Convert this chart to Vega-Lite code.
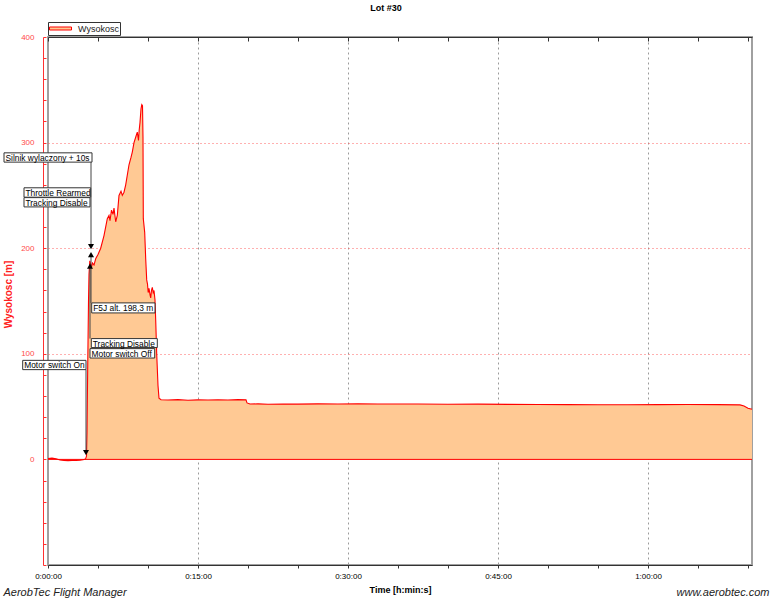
{
  "$schema": "https://vega.github.io/schema/vega-lite/v6.json",
  "width": 704,
  "height": 528,
  "autosize": {"type": "none"},
  "padding": {"left": 48, "top": 37, "right": 20, "bottom": 35},
  "background": "white",
  "title": {"text": "Lot #30", "fontSize": 9, "fontWeight": "bold", "font": "Liberation Sans", "color": "#000", "anchor": "middle", "dx": -14, "offset": 9},
  "config": {
    "view": {"stroke": "#a0a0a0", "strokeWidth": 2},
    "font": "Liberation Sans",
    "axis": {"labelFont": "Liberation Sans", "titleFont": "Liberation Sans", "labelFlush": false, "labelOverlap": false}
  },
  "datasets": {
    "alt": [
      {"t": 0, "alt": 0.8}, {"t": 0.4, "alt": 1.2}, {"t": 0.8, "alt": 0.6}, {"t": 1.2, "alt": -0.5}, {"t": 1.6, "alt": -1},
      {"t": 2.0, "alt": -1.2}, {"t": 2.4, "alt": -1}, {"t": 2.8, "alt": -1.1}, {"t": 3.2, "alt": -0.8}, {"t": 3.5, "alt": -0.3},
      {"t": 3.75, "alt": 0.3}, {"t": 3.85, "alt": 3}, {"t": 3.9, "alt": 25}, {"t": 3.95, "alt": 70}, {"t": 4.0, "alt": 110},
      {"t": 4.05, "alt": 150}, {"t": 4.1, "alt": 175}, {"t": 4.18, "alt": 188}, {"t": 4.27, "alt": 185}, {"t": 4.35, "alt": 182},
      {"t": 4.45, "alt": 186}, {"t": 4.6, "alt": 184}, {"t": 4.77, "alt": 190}, {"t": 5.0, "alt": 194}, {"t": 5.27, "alt": 200},
      {"t": 5.6, "alt": 212}, {"t": 5.93, "alt": 228}, {"t": 6.1, "alt": 231}, {"t": 6.2, "alt": 226}, {"t": 6.35, "alt": 236},
      {"t": 6.5, "alt": 232}, {"t": 6.6, "alt": 238}, {"t": 6.77, "alt": 225}, {"t": 6.93, "alt": 231}, {"t": 7.1, "alt": 250},
      {"t": 7.3, "alt": 254}, {"t": 7.43, "alt": 250}, {"t": 7.6, "alt": 253}, {"t": 7.77, "alt": 260}, {"t": 8.1, "alt": 279},
      {"t": 8.3, "alt": 286}, {"t": 8.43, "alt": 291}, {"t": 8.6, "alt": 300}, {"t": 8.8, "alt": 306}, {"t": 8.93, "alt": 310},
      {"t": 9.05, "alt": 302}, {"t": 9.12, "alt": 312}, {"t": 9.2, "alt": 319}, {"t": 9.3, "alt": 332}, {"t": 9.38, "alt": 336},
      {"t": 9.45, "alt": 335}, {"t": 9.5, "alt": 304}, {"t": 9.53, "alt": 228}, {"t": 9.67, "alt": 215}, {"t": 9.77, "alt": 190},
      {"t": 9.87, "alt": 170}, {"t": 9.95, "alt": 166}, {"t": 10.02, "alt": 158}, {"t": 10.1, "alt": 162}, {"t": 10.2, "alt": 156},
      {"t": 10.27, "alt": 153}, {"t": 10.35, "alt": 160}, {"t": 10.43, "alt": 163}, {"t": 10.52, "alt": 158}, {"t": 10.6, "alt": 160},
      {"t": 10.7, "alt": 151}, {"t": 10.77, "alt": 132}, {"t": 10.87, "alt": 100}, {"t": 11.0, "alt": 70}, {"t": 11.1, "alt": 58},
      {"t": 11.3, "alt": 56.5}, {"t": 12, "alt": 56.2}, {"t": 13, "alt": 56.6}, {"t": 14, "alt": 56.0}, {"t": 15, "alt": 56.4},
      {"t": 16, "alt": 56.2}, {"t": 17, "alt": 56.5}, {"t": 18, "alt": 56.3}, {"t": 19, "alt": 56.6}, {"t": 19.8, "alt": 56.4},
      {"t": 19.9, "alt": 53.5}, {"t": 20.2, "alt": 52.4}, {"t": 21, "alt": 52.6}, {"t": 22, "alt": 52.2}, {"t": 23.5, "alt": 52.5},
      {"t": 25, "alt": 52.3}, {"t": 27, "alt": 52.6}, {"t": 29, "alt": 52.4}, {"t": 31, "alt": 52.7}, {"t": 33, "alt": 52.5},
      {"t": 35, "alt": 52.4}, {"t": 37, "alt": 52.5}, {"t": 40, "alt": 52.2}, {"t": 43, "alt": 52.3}, {"t": 46, "alt": 52.1},
      {"t": 49, "alt": 52.0}, {"t": 52, "alt": 51.9}, {"t": 55, "alt": 51.8}, {"t": 58, "alt": 51.7}, {"t": 61, "alt": 51.9},
      {"t": 64, "alt": 52.0}, {"t": 67, "alt": 51.9}, {"t": 69.2, "alt": 51.6}, {"t": 69.6, "alt": 50.5}, {"t": 70.0, "alt": 48.5},
      {"t": 70.4, "alt": 47.5}
    ],
    "labels": [
      {"label": "Silnik wylaczony + 10s", "t0": -4.4, "t1": 4.4, "top": 290.3, "bot": 281.5},
      {"label": "Throttle Rearmed", "t0": -2.4, "t1": 4.27, "top": 257.2, "bot": 248.3},
      {"label": "Tracking Disable", "t0": -2.4, "t1": 4.2, "top": 247.9, "bot": 239.1},
      {"label": "F5J alt. 198,3 m", "t0": 4.37, "t1": 10.7, "top": 148.2, "bot": 138.7},
      {"label": "Tracking Disable", "t0": 4.33, "t1": 10.93, "top": 114.4, "bot": 105.9},
      {"label": "Motor switch Off", "t0": 4.2, "t1": 10.67, "top": 104.9, "bot": 96.0},
      {"label": "Motor switch On", "t0": -2.53, "t1": 3.8, "top": 93.8, "bot": 85.0}
    ],
    "arrows": [
      {"t": 4.3, "from": 281.5, "to": 203},
      {"t": 4.3, "from": 148.2, "to": 192},
      {"t": 4.2, "from": 114.4, "to": 181},
      {"t": 3.8, "from": 85.0, "to": 8}
    ],
    "markers": [
      {"t": 4.3, "a": 201.5, "dir": "down"},
      {"t": 4.3, "a": 194, "dir": "up"},
      {"t": 4.2, "a": 183, "dir": "up"},
      {"t": 3.8, "a": 6.5, "dir": "down"}
    ]
  },
  "layer": [
    {
      "data": {"name": "alt"},
      "mark": {"type": "area", "opacity": 1},
      "encoding": {
        "x": {
          "field": "t", "type": "quantitative",
          "scale": {"domain": [0, 70.4], "nice": false, "zero": false},
          "axis": {
            "orient": "bottom",
            "values": [0, 5, 10, 15, 20, 25, 30, 35, 40, 45, 50, 55, 60, 65, 70],
            "labelExpr": "datum.value % 15 === 0 ? (floor(datum.value / 60) + ':' + (datum.value % 60 < 10 ? '0' : '') + (datum.value % 60) + ':00') : ''",
            "labelFontSize": 8, "labelColor": "#000", "labelPadding": 4,
            "tickSize": 3, "tickColor": "#333", "domainColor": "#333",
            "grid": true, "gridColor": "#9a9a9a", "gridDash": [2, 3],
            "gridOpacity": {"condition": {"test": "datum.value % 15 === 0 && datum.value > 0", "value": 1}, "value": 0},
            "title": "Time [h:min:s]", "titleFontSize": 9, "titleFontWeight": "bold", "titleColor": "#000",
            "titleX": 352, "titleY": 27, "titleBaseline": "alphabetic"
          }
        },
        "y": {
          "field": "alt", "type": "quantitative",
          "scale": {"domain": [-100, 400], "nice": false},
          "axis": {
            "orient": "left", "offset": 5,
            "values": [-100, -80, -60, -40, -20, 0, 20, 40, 60, 80, 100, 120, 140, 160, 180, 200, 220, 240, 260, 280, 300, 320, 340, 360, 380, 400],
            "labelExpr": "datum.value % 100 === 0 && datum.value >= 0 ? datum.label : ''",
            "labelFontSize": 8, "labelColor": "#ff4a4a", "labelPadding": 12,
            "tickSize": -3, "tickColor": "#ff3030", "domainColor": "#ff3030",
            "grid": true, "gridColor": "#ff6060", "gridDash": [1, 3],
            "gridOpacity": {"condition": {"test": "datum.value % 100 === 0 && datum.value > 0 && datum.value < 400", "value": 1}, "value": 0},
            "title": "Wysokosc [m]", "titleColor": "#ff2020", "titleFontSize": 10, "titleFontWeight": "bold",
            "titleX": -35, "titleY": 257, "titleAngle": -90, "titleAlign": "center", "titleBaseline": "middle"
          }
        },
        "color": {
          "datum": "Wysokosc",
          "scale": {"range": ["#ffc994"]},
          "legend": {
            "orient": "none", "legendX": 0, "legendY": -15, "title": null,
            "strokeColor": "#333", "fillColor": "white", "padding": 1,
            "symbolType": "M-1,-0.3H3.4V0.3H-1Z", "symbolSize": 100,
            "symbolStrokeColor": "#ff0000", "symbolStrokeWidth": 1,
            "labelFontSize": 9, "labelColor": "#222", "labelOffset": 18, "labelFont": "Liberation Sans"
          }
        }
      }
    },
    {
      "data": {"values": [{}]},
      "mark": {"type": "rule", "color": "#ff0000", "strokeWidth": 1},
      "encoding": {
        "y": {
          "datum": 0, "type": "quantitative",
          "scale": {"domain": [-100, 400], "nice": false},
          "axis": {
            "orient": "right", "domain": false, "ticks": false, "labels": false, "grid": false,
            "title": "www.aerobtec.com", "titleAngle": 0, "titleX": 17, "titleY": 558,
            "titleAlign": "right", "titleBaseline": "alphabetic", "titleFontStyle": "italic",
            "titleFontWeight": "normal", "titleFontSize": 11, "titleColor": "#222"
          }
        }
      }
    },
    {
      "data": {"name": "alt"},
      "mark": {"type": "line", "color": "#ff0000", "strokeWidth": 1.1},
      "encoding": {
        "x": {
          "field": "t", "type": "quantitative",
          "scale": {"domain": [0, 70.4], "nice": false, "zero": false},
          "axis": {
            "orient": "top", "labels": false, "grid": false, "title": null,
            "values": [0, 5, 10, 15, 20, 25, 30, 35, 40, 45, 50, 55, 60, 65, 70],
            "tickSize": -4, "tickColor": "#333", "domainColor": "#333"
          }
        },
        "y": {"field": "alt", "type": "quantitative", "scale": {"domain": [-100, 400], "nice": false}, "axis": null}
      }
    },
    {
      "data": {"name": "labels"},
      "mark": {"type": "rect", "fill": "white", "stroke": "#333", "strokeWidth": 1},
      "encoding": {
        "x": {
          "field": "t0", "type": "quantitative",
          "scale": {"domain": [0, 70.4], "nice": false, "zero": false},
          "axis": {
            "orient": "bottom", "domain": false, "ticks": false, "labels": false, "grid": false,
            "title": "AerobTec Flight Manager", "titleX": -45, "titleY": 30, "titleAlign": "left",
            "titleBaseline": "alphabetic", "titleFontStyle": "italic", "titleFontWeight": "normal",
            "titleFontSize": 11, "titleColor": "#222"
          }
        },
        "x2": {"field": "t1"},
        "y": {"field": "top", "type": "quantitative", "scale": {"domain": [-100, 400], "nice": false}, "axis": null},
        "y2": {"field": "bot"}
      }
    },
    {
      "data": {"name": "labels"},
      "mark": {"type": "text", "align": "left", "baseline": "top", "dx": 1.5, "dy": 1, "fontSize": 8.4, "color": "#000", "font": "Liberation Sans"},
      "encoding": {
        "x": {"field": "t0", "type": "quantitative", "scale": {"domain": [0, 70.4], "nice": false, "zero": false}, "axis": null},
        "y": {"field": "top", "type": "quantitative", "scale": {"domain": [-100, 400], "nice": false}, "axis": null},
        "text": {"field": "label"}
      }
    },
    {
      "data": {"name": "arrows"},
      "mark": {"type": "rule", "color": "#444", "strokeWidth": 1},
      "encoding": {
        "x": {"field": "t", "type": "quantitative", "scale": {"domain": [0, 70.4], "nice": false, "zero": false}, "axis": null},
        "y": {"field": "from", "type": "quantitative", "scale": {"domain": [-100, 400], "nice": false}, "axis": null},
        "y2": {"field": "to"}
      }
    },
    {
      "data": {"name": "markers"},
      "mark": {"type": "point", "filled": true, "color": "#000", "size": 36, "opacity": 1},
      "encoding": {
        "x": {"field": "t", "type": "quantitative", "scale": {"domain": [0, 70.4], "nice": false, "zero": false}, "axis": null},
        "y": {"field": "a", "type": "quantitative", "scale": {"domain": [-100, 400], "nice": false}, "axis": null},
        "shape": {"field": "dir", "type": "nominal", "scale": {"domain": ["down", "up"], "range": ["triangle-down", "triangle-up"]}, "legend": null}
      }
    }
  ],
  "resolve": {"axis": {"x": "independent", "y": "independent"}}
}
